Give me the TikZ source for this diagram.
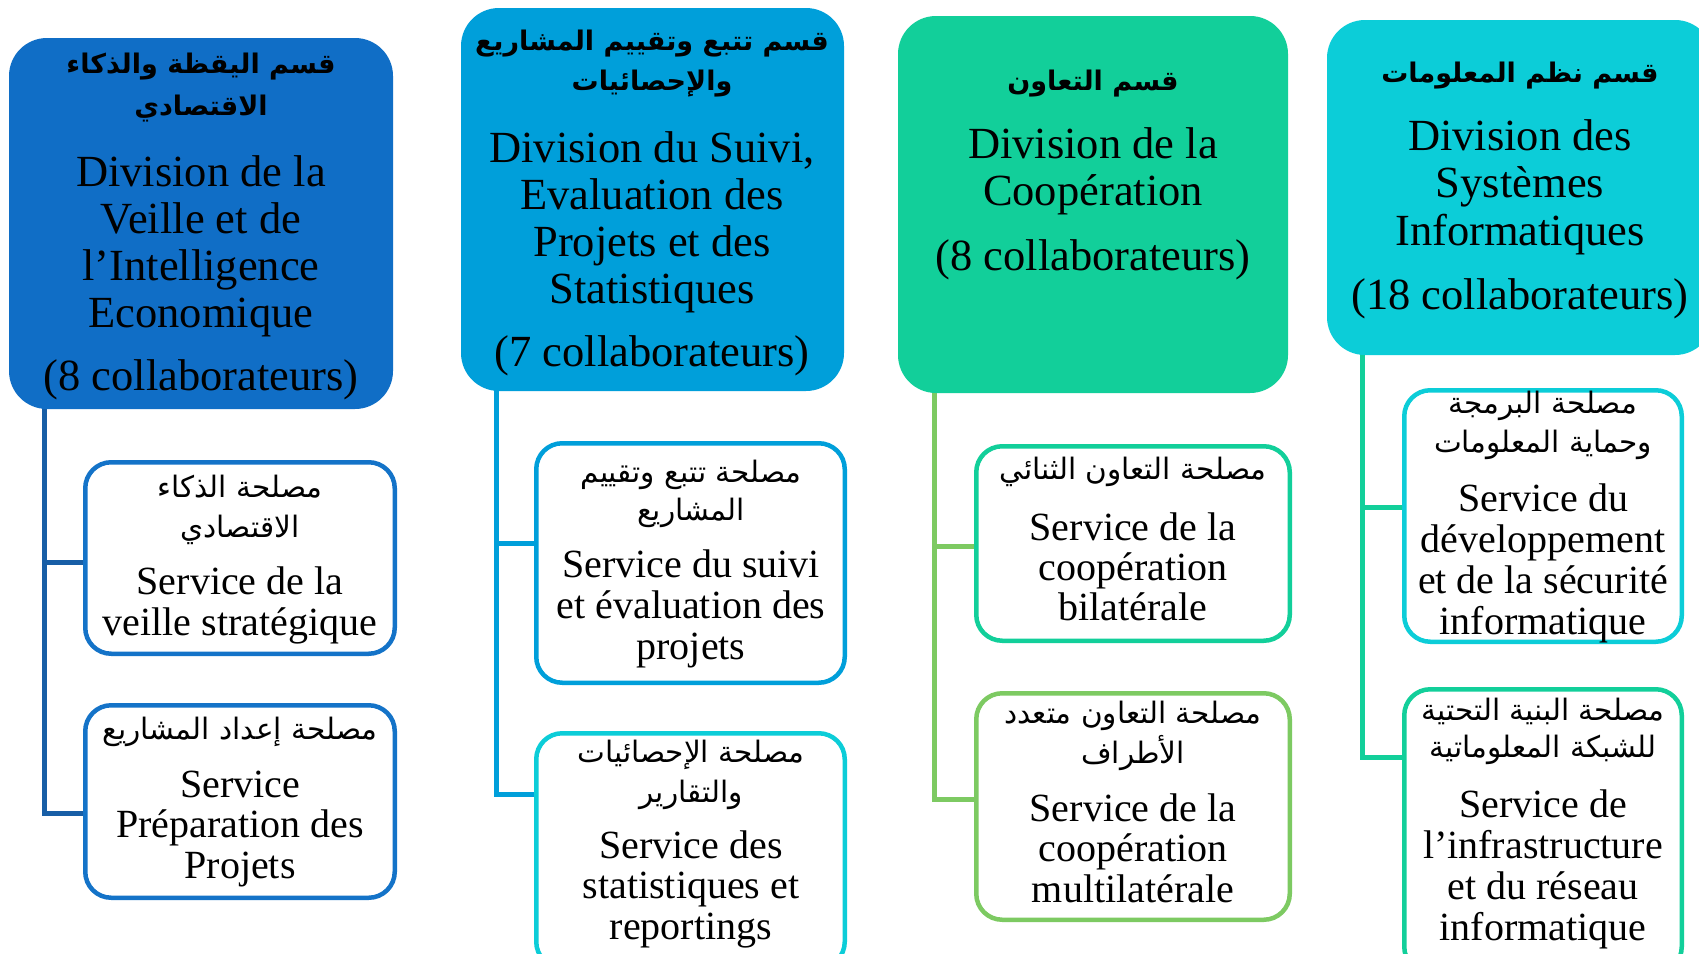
\documentclass[tikz,border=0pt]{standalone}
\usepackage{fontspec}
\setmainfont{Liberation Serif}
\newfontfamily\arabicfont[Script=Arabic]{DejaVu Sans}
\TeXXeTstate=1
\usetikzlibrary{backgrounds}
\definecolor{hblue}{RGB}{16,110,198}
\definecolor{lblue}{RGB}{24,94,166}
\definecolor{bblue}{RGB}{20,115,200}
\definecolor{sky}{RGB}{0,159,218}
\definecolor{cyanx}{RGB}{12,205,216}
\definecolor{teal}{RGB}{18,207,154}
\definecolor{lgreen}{RGB}{125,202,98}
\newcommand\tlines[6]{\foreach \t [count=\i] in {#6}{\node[#5] (#1-\i) at (#2,{-(#3)-(\i-1)*(#4)}) {\t};}}
\tikzset{
  hbox/.style={rounded corners=38pt, inner sep=0pt},
  sbox/.style={draw, line width=4.5pt, fill=white, rounded corners=26pt, inner sep=0pt},
  conn/.style={line width=5pt},
  frh/.style={font=\fontsize{44.5}{48}\selectfont, inner sep=0pt, anchor=base},
  frs/.style={font=\fontsize{40}{42}\selectfont, inner sep=0pt, anchor=base},
  arh/.style={font=\arabicfont\bfseries\fontsize{27}{31}\selectfont, inner sep=0pt, anchor=base, execute at begin node=\beginR, execute at end node=\endR},
  ars/.style={font=\arabicfont\fontsize{29.5}{33}\selectfont, inner sep=0pt, anchor=base, execute at begin node=\beginR, execute at end node=\endR},
}
\begin{document}
\begin{tikzpicture}[x=1pt,y=1pt]
\useasboundingbox (0,0) rectangle (1699,-953);
\clip (0,0) rectangle (1699,-953);
% header boxes
\node[hbox, fill=hblue, minimum width=384pt, minimum height=371pt] (h1) at (201,-223.5) {};
\node[hbox, fill=sky, minimum width=383pt, minimum height=383pt] (h2) at (652.5,-199.5) {};
\node[hbox, fill=teal, minimum width=390pt, minimum height=377pt] (h3) at (1093,-204.5) {};
\node[hbox, fill=cyanx, minimum width=386pt, minimum height=335pt] (h4) at (1520,-187.5) {};
% service boxes
\node[sbox, draw=bblue, minimum width=309.5pt, minimum height=191.5pt] (sA) at (240,-558) {};
\node[sbox, draw=bblue, minimum width=309.5pt, minimum height=192.5pt] (sB) at (240,-801.5) {};
\node[sbox, draw=sky, minimum width=308.5pt, minimum height=239.5pt] (sC) at (690.5,-563) {};
\node[sbox, draw=cyanx, minimum width=308.5pt, minimum height=234.5pt] (sD) at (690.5,-850.5) {};
\node[sbox, draw=teal, minimum width=313.5pt, minimum height=194.5pt] (sE) at (1133,-543.5) {};
\node[sbox, draw=lgreen, minimum width=313.5pt, minimum height=226.5pt] (sF) at (1133,-806.5) {};
\node[sbox, draw=cyanx, minimum width=277.5pt, minimum height=251.5pt] (sG) at (1543,-516) {};
\node[sbox, draw=teal, minimum width=277.5pt, minimum height=283.5pt] (sH) at (1543,-831) {};
% connectors
\begin{scope}[on background layer]
\fill[white] (0,0) rectangle (1699,-953);
\draw[conn, lblue] ([xshift=36pt,yshift=20pt]h1.south west) |- ([yshift=-4pt]sA.west);
\draw[conn, lblue] ([xshift=36pt,yshift=20pt]h1.south west) |- ([yshift=-11.5pt]sB.west);
\draw[conn, sky] ([xshift=36pt,yshift=20pt]h2.south west) |- ([yshift=20pt]sC.west);
\draw[conn, sky] ([xshift=36pt,yshift=20pt]h2.south west) |- ([yshift=56.5pt]sD.west);
\draw[conn, lgreen] ([xshift=37pt,yshift=20pt]h3.south west) |- ([yshift=-2.5pt]sE.west);
\draw[conn, lgreen] ([xshift=37pt,yshift=20pt]h3.south west) |- ([yshift=7.5pt]sF.west);
\draw[conn, teal] ([xshift=36pt,yshift=20pt]h4.south west) |- ([yshift=8.4pt]sG.west);
\draw[conn, teal] ([xshift=36pt,yshift=20pt]h4.south west) |- ([yshift=74pt]sH.west);
\end{scope}
% header texts
\tlines{h1a}{201}{73}{42}{arh}{قسم اليقظة والذكاء,الاقتصادي}
\tlines{h1f}{201}{186}{47}{frh}{Division de la,Veille et de,l’Intelligence,Economique}
\node[frh] (h1n) at (201,-390) {(8 collaborateurs)};
\tlines{h2a}{652}{50}{40}{arh}{قسم تتبع وتقييم المشاريع,والإحصائيات}
\tlines{h2f}{652}{162}{47}{frh}{{Division du Suivi,},Evaluation des,Projets et des,Statistiques}
\node[frh] (h2n) at (652,-366) {(7 collaborateurs)};
\tlines{h3a}{1093}{90}{40}{arh}{قسم التعاون}
\tlines{h3f}{1093}{158}{47}{frh}{Division de la,Coopération}
\node[frh] (h3n) at (1093,-270) {(8 collaborateurs)};
\tlines{h4a}{1520}{82}{40}{arh}{قسم نظم المعلومات}
\tlines{h4f}{1520}{150}{47.5}{frh}{Division des,Systèmes,Informatiques}
\node[frh] (h4n) at (1520,-309) {(18 collaborateurs)};
% service texts
\tlines{sAa}{240}{497}{40}{ars}{مصلحة الذكاء,الاقتصادي}
\tlines{sAf}{240}{594}{41.3}{frs}{Service de la,veille stratégique}
\tlines{sBa}{240}{739}{40}{ars}{مصلحة إعداد المشاريع}
\tlines{sBf}{240}{797}{40.8}{frs}{Service,Préparation des,Projets}
\tlines{sCa}{691}{482}{38}{ars}{مصلحة تتبع وتقييم,المشاريع}
\tlines{sCf}{691}{577}{41.3}{frs}{Service du suivi,et évaluation des,projets}
\tlines{sDa}{691}{762}{40}{ars}{مصلحة الإحصائيات,والتقارير}
\tlines{sDf}{691}{858}{40.8}{frs}{Service des,statistiques et,reportings}
\tlines{sEa}{1133}{479}{40}{ars}{مصلحة التعاون الثنائي}
\tlines{sEf}{1133}{540}{40.2}{frs}{Service de la,coopération,bilatérale}
\tlines{sFa}{1133}{723}{40}{ars}{مصلحة التعاون متعدد,الأطراف}
\tlines{sFf}{1133}{821}{40.7}{frs}{Service de la,coopération,multilatérale}
\tlines{sGa}{1543}{413}{39}{ars}{مصلحة البرمجة,وحماية المعلومات}
\tlines{sGf}{1543}{511}{41.2}{frs}{Service du,développement,et de la sécurité,informatique}
\tlines{sHa}{1543}{720}{37}{ars}{مصلحة البنية التحتية,للشبكة المعلوماتية}
\tlines{sHf}{1543}{817}{41.3}{frs}{Service de,l’infrastructure,et du réseau,informatique}
\end{tikzpicture}
\end{document}
